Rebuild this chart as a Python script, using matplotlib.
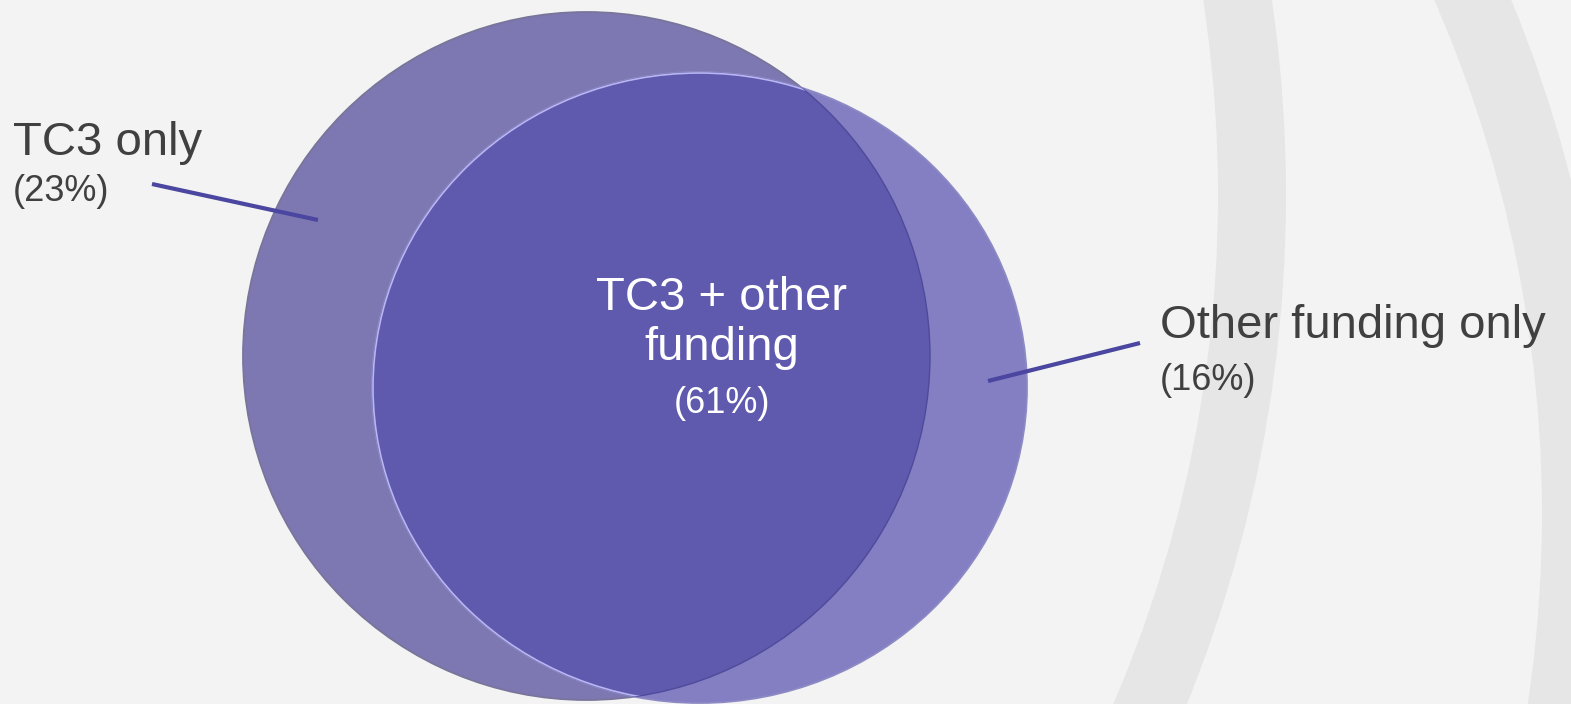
import matplotlib.pyplot as plt
from matplotlib.patches import Ellipse, Wedge

# Venn shares
labels = ["TC3 only", "TC3 + other\nfunding", "Other funding only"]
shares = [23, 61, 16]

bg_color = "#F3F3F3"
band_color = "#E6E6E6"
left_color = "#7E78B2"
right_color = "#837FC2"
both_color = "#5F5AAE"
leader_color = "#4B46A0"
text_color = "#404040"

plt.rcParams['font.family'] = ['Liberation Sans', 'DejaVu Sans']

fig = plt.figure(figsize=(15.71, 7.04), dpi=100)
fig.patch.set_facecolor(bg_color)
ax = fig.add_axes([0, 0, 1, 1])
ax.set_xlim(0, 1571)
ax.set_ylim(704, 0)
ax.set_facecolor(bg_color)
ax.axis("off")

# Decorative background arcs.
ax.add_patch(Wedge((-72, 195), 1358, -60, 60, width=68,
                   facecolor=band_color, edgecolor="none"))
ax.add_patch(Wedge((263, 514), 1350, -60, 60, width=71,
                   facecolor=band_color, edgecolor="none"))

# The two sets.
left = Ellipse((586.5, 356), 687, 688, facecolor=left_color,
               edgecolor="#77759A", lw=1.3)
right = Ellipse((699.5, 387.5), 655, 631, facecolor=right_color,
                edgecolor="#8C89C4", lw=1.3)
ax.add_patch(left)
ax.add_patch(right)

# Overlap: left set clipped to the right one.
both = Ellipse((586.5, 356), 687, 688, facecolor=both_color,
               edgecolor="#4F4A9A", lw=1.0)
ax.add_patch(both)
both.set_clip_path(right)

# Light rim of the right set where it crosses the left one.
rim = Ellipse((699.5, 387.5), 653, 629, facecolor="none",
              edgecolor="#B9B6F2", lw=1.2)
ax.add_patch(rim)
rim.set_clip_path(left)

# Leader lines.
ax.plot([152, 318], [184, 220], color=leader_color, lw=3, solid_capstyle="butt")
ax.plot([988, 1140], [381, 343], color=leader_color, lw=3, solid_capstyle="butt")

# Labels.
big, small = 34, 26
ax.text(13, 155, labels[0], fontsize=big, color=text_color, va="baseline")
ax.text(13, 201, f"({shares[0]}%)", fontsize=small, color=text_color, va="baseline")

ax.text(1160, 338, labels[2], fontsize=big, color=text_color, va="baseline")
ax.text(1160, 390, f"({shares[2]}%)", fontsize=small, color=text_color, va="baseline")

line1, line2 = labels[1].split("\n")
ax.text(722, 310, line1, fontsize=big, color="white", ha="center", va="baseline")
ax.text(722, 360, line2, fontsize=big, color="white", ha="center", va="baseline")
ax.text(722, 413, f"({shares[1]}%)", fontsize=small, color="white",
        ha="center", va="baseline")

fig.savefig("out.png", dpi=100, facecolor=bg_color)
